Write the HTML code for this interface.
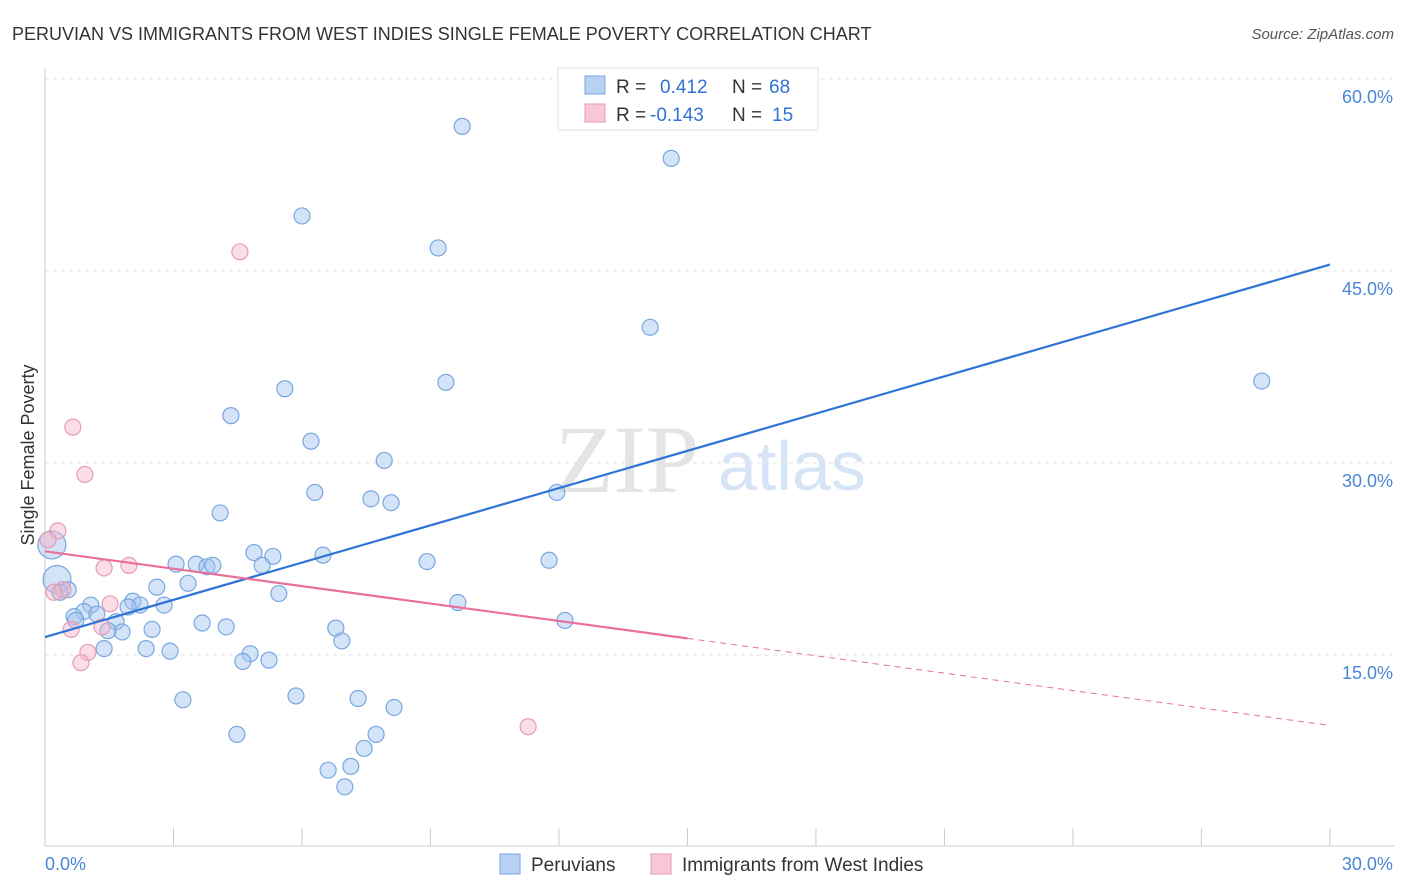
<!DOCTYPE html>
<html><head><meta charset="utf-8">
<style>
body{margin:0;background:#fff;font-family:"Liberation Sans",sans-serif;}
#wrap{position:relative;width:1406px;height:892px;overflow:hidden;}
</style></head>
<body>
<div id="wrap">
<svg id="svg" width="1406" height="892" xmlns="http://www.w3.org/2000/svg">
<text x="12" y="40" font-size="18" fill="#333">PERUVIAN VS IMMIGRANTS FROM WEST INDIES SINGLE FEMALE POVERTY CORRELATION CHART</text>
<text x="1394" y="39" font-size="15" fill="#555" font-style="italic" text-anchor="end">Source: ZipAtlas.com</text>
<text x="555" y="492" font-size="96" fill="#e4e4e4" font-family="Liberation Serif,serif">ZIP</text>
<text x="718" y="490" font-size="70" fill="#d6e4f6">atlas</text>
<text transform="translate(34,455) rotate(-90)" font-size="18" fill="#333" text-anchor="middle">Single Female Poverty</text>
<g id="grid"></g>
<g id="marks"></g>
<g>
<rect x="558" y="68" width="260" height="62" fill="#fff" stroke="#ddd"/>
<rect x="585" y="76" width="20" height="18" fill="#b7d1f3" stroke="#7aa6e0"/>
<text x="616" y="93" font-size="19" fill="#333">R =</text>
<text x="660" y="93" font-size="19" fill="#2f73d6">0.412</text>
<text x="732" y="93" font-size="19" fill="#333">N =</text>
<text x="769" y="93" font-size="19" fill="#2f73d6">68</text>
<rect x="585" y="104" width="20" height="18" fill="#f8c8d6" stroke="#e89ab3"/>
<text x="616" y="121" font-size="19" fill="#333">R =</text>
<text x="650" y="121" font-size="19" fill="#2f73d6">-0.143</text>
<text x="732" y="121" font-size="19" fill="#333">N =</text>
<text x="772" y="121" font-size="19" fill="#2f73d6">15</text>
</g>
<g>
<rect x="500" y="854" width="20" height="20" fill="#b7d1f3" stroke="#7aa6e0"/>
<text x="531" y="871" font-size="19" fill="#333">Peruvians</text>
<rect x="651" y="854" width="20" height="20" fill="#f8c8d6" stroke="#e89ab3"/>
<text x="682" y="871" font-size="19" fill="#333">Immigrants from West Indies</text>
</g>
</svg>
</div>
<script>
const xTicks=[0,3,6,9,12,15,18,21,24,27,30];
const yTicks=[15,30,45,60];
const yTickLabels=["15.0%","30.0%","45.0%","60.0%"];
const xEndLabels=["0.0%","30.0%"];
const peruX=[9.74,14.62,6.0,9.18,14.13,28.41,9.36,5.6,4.34,6.21,7.92,6.3,7.61,8.08,11.95,4.09,0.16,4.88,5.32,6.49,8.92,11.77,3.06,3.53,3.78,3.92,5.07,3.34,2.61,0.28,0.54,0.35,5.46,2.05,2.22,2.78,1.07,9.64,1.94,0.91,1.21,0.68,0.72,1.66,3.67,4.23,6.79,12.14,2.5,1.8,1.47,6.93,1.38,2.36,2.92,4.79,4.62,5.23,5.86,3.22,7.31,8.15,4.48,7.73,7.45,6.61,7.14,7.0];
const peruY=[56.3,53.8,49.3,46.8,40.6,36.4,36.3,35.8,33.7,31.7,30.2,27.7,27.2,26.9,27.7,26.1,23.6,23.0,22.7,22.8,22.3,22.4,22.1,22.1,21.9,22.0,22.0,20.6,20.3,20.9,20.1,19.9,19.8,19.2,18.9,18.9,18.9,19.1,18.75,18.4,18.2,18.0,17.7,17.6,17.5,17.2,17.1,17.7,17.0,16.8,16.9,16.1,15.5,15.5,15.3,15.1,14.5,14.6,11.8,11.5,11.6,10.9,8.8,8.8,7.7,6.0,6.3,4.7];
const peruBig=[16,29];
const wiX=[4.55,0.65,0.93,0.3,0.07,1.38,1.96,0.42,0.21,1.52,1.33,0.61,1.0,0.84,11.28];
const wiY=[46.5,32.8,29.1,24.7,24.0,21.8,22.0,20.1,19.9,19.0,17.2,17.0,15.2,14.4,9.4];
const peruTrend=[[0,16.4],[30,45.5]];
const wiTrend=[[0,23.1],[15,16.3]];
const wiTrendExt=[[15,16.3],[30,9.5]];
const NS="http://www.w3.org/2000/svg";
const X=v=>45+v*42.83, Y=v=>847-v*12.8;
function mk(tag,attrs,parent){const e=document.createElementNS(NS,tag);for(const k in attrs)e.setAttribute(k,attrs[k]);parent.appendChild(e);return e;}
const grid=document.getElementById('grid'), marks=document.getElementById('marks');
yTicks.forEach((t,i)=>{
 const l=mk('line',{x1:45,x2:1394,y1:Y(t),y2:Y(t),stroke:'#e2e2e2','stroke-dasharray':'4,4'},grid);
 
 
 const tx=mk('text',{x:1393,y:Y(t)+24,'font-size':18,fill:'#4a86d8','text-anchor':'end'},grid);
 tx.textContent=yTickLabels[i];
 
 
});
const ax=mk('line',{x1:45,x2:45,y1:68,y2:846,stroke:'#ccc'},grid);


const bx=mk('line',{x1:45,x2:1394,y1:846,y2:846,stroke:'#ccc'},grid);


xTicks.forEach(t=>{
 const l=mk('line',{x1:X(t),x2:X(t),y1:828,y2:846,stroke:'#ccc'},grid);
 
 
});
[[0,'start'],[30,'end']].forEach((p,i)=>{
 const tx=mk('text',{x:X(p[0])+(i?63:0),y:870,'font-size':18,fill:'#4a86d8','text-anchor':p[1]},grid);
 tx.textContent=xEndLabels[i];
 
 
});
peruX.forEach((v,i)=>{
 const c=mk('circle',{cx:X(v),cy:Y(peruY[i]),r:peruBig.includes(i)?14:8,fill:'rgba(160,196,240,0.45)',stroke:'#7aa6e0','stroke-width':1.2},marks);
 
 
});
wiX.forEach((v,i)=>{
 const c=mk('circle',{cx:X(v),cy:Y(wiY[i]),r:8,fill:'rgba(245,180,200,0.45)',stroke:'#e89ab3','stroke-width':1.2},marks);
 
 
});
const l1=mk('line',{x1:X(peruTrend[0][0]),y1:Y(peruTrend[0][1]),x2:X(peruTrend[1][0]),y2:Y(peruTrend[1][1]),stroke:'#2f73d6','stroke-width':2.2},marks);


const l2=mk('line',{x1:X(wiTrend[0][0]),y1:Y(wiTrend[0][1]),x2:X(wiTrend[1][0]),y2:Y(wiTrend[1][1]),stroke:'#e8709a','stroke-width':2.2},marks);


const l3=mk('line',{x1:X(wiTrendExt[0][0]),y1:Y(wiTrendExt[0][1]),x2:X(wiTrendExt[1][0]),y2:Y(wiTrendExt[1][1]),stroke:'#e8709a','stroke-width':1,'stroke-dasharray':'6,5'},marks);


</script>
</body></html>
